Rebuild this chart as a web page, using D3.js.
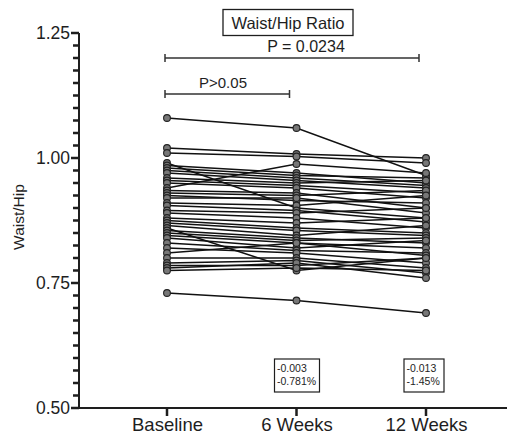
<!DOCTYPE html>
<html>
<head>
<meta charset="utf-8">
<script src="https://cdn.jsdelivr.net/npm/d3@7"></script>
<style>
  html, body { margin: 0; padding: 0; background: #fff; }
  svg { display: block; font-family: "Liberation Sans", Arial, sans-serif; }
</style>
</head>
<body>
<svg id="chart" width="507" height="437"></svg>
<script>
// time points on the x axis
const timepoints = ['Baseline', '6 Weeks', '12 Weeks'];

// waist/hip ratio per subject
const baseline = [1.080, 1.020, 1.010, 0.990, 0.985, 0.980, 0.975, 0.970, 0.960, 0.955,
                  0.950, 0.940, 0.935, 0.930, 0.925, 0.920, 0.910, 0.905, 0.895, 0.890,
                  0.880, 0.875, 0.870, 0.865, 0.860, 0.855, 0.850, 0.845, 0.840, 0.830,
                  0.820, 0.810, 0.800, 0.790, 0.785, 0.780, 0.775, 0.730];
const week6 = [1.060, 1.008, 1.003, 0.900, 0.970, 0.965, 0.960, 0.955, 0.950, 0.945,
               0.940, 0.988, 0.930, 0.925, 0.915, 0.920, 0.905, 0.895, 0.890, 0.880,
               0.870, 0.860, 0.855, 0.845, 0.775, 0.840, 0.835, 0.830, 0.820, 0.815,
               0.810, 0.830, 0.800, 0.795, 0.785, 0.790, 0.780, 0.715];
const week12 = [0.965, 1.000, 0.990, 0.880, 0.950, 0.960, 0.945, 0.940, 0.955, 0.930,
                0.920, 0.970, 0.900, 0.935, 0.910, 0.890, 0.925, 0.872, 0.900, 0.860,
                0.880, 0.850, 0.845, 0.865, 0.800, 0.830, 0.840, 0.820, 0.835, 0.810,
                0.790, 0.805, 0.780, 0.770, 0.800, 0.760, 0.775, 0.690];

// y axis ticks
const majorTicks = [0.50, 0.75, 1.00, 1.25];
const minorTicks = d3.range(0, 31).map(i => 0.5 + i * 0.025);

// comparison brackets and change annotations
const brackets = [
  { from: 'Baseline', to: '12 Weeks', level: 1.200, label: 'P =  0.0234', cx: 306 },
  { from: 'Baseline', to: '6 Weeks', level: 1.128, label: 'P>0.05', cx: 223 }
];
const changes = [
  { at: '6 Weeks', lines: ['-0.003', '-0.781%'], w: 45 },
  { at: '12 Weeks', lines: ['-0.013', '-1.45%'], w: 40 }
];

const svg = d3.select('#chart');
const axisX = 79, axisY = 408;
const ink = '#1e1e1e';

const x = d3.scalePoint().domain(timepoints).range([167, 426]);
const y = d3.scaleLinear().domain([0.5, 1.25]).range([axisY, 33]);

const subjects = baseline.map((b, i) => [b, week6[i], week12[i]]);

// subject lines
const line = d3.line()
  .x((d, i) => x(timepoints[i]))
  .y(d => y(d));

svg.append('g')
  .selectAll('path')
  .data(subjects)
  .join('path')
  .attr('d', line)
  .attr('fill', 'none')
  .attr('stroke', '#111')
  .attr('stroke-width', 1.4);

// subject points
const points = [];
subjects.forEach(s => s.forEach((v, i) => points.push({ t: timepoints[i], v })));
svg.append('g')
  .selectAll('circle')
  .data(points)
  .join('circle')
  .attr('cx', d => x(d.t))
  .attr('cy', d => y(d.v))
  .attr('r', 3.4)
  .attr('fill', '#777')
  .attr('stroke', '#222')
  .attr('stroke-width', 1.1);

// y axis line and labels
svg.append('g')
  .attr('transform', `translate(${axisX},0)`)
  .call(d3.axisLeft(y).tickValues(majorTicks).tickSize(0).tickPadding(9).tickFormat(d3.format('.2f')))
  .call(g => g.select('.domain').attr('stroke', ink).attr('stroke-width', 2).attr('d', `M0,${y(1.25)}V${axisY}`))
  .call(g => g.selectAll('text').attr('fill', ink).attr('font-size', 17.5)
    .attr('font-family', '"Liberation Sans", Arial, sans-serif'));

// y axis ticks: minor every 0.025, major ones a bit longer
const isMajor = d => majorTicks.some(m => Math.abs(m - d) < 1e-6);
svg.append('g')
  .selectAll('rect')
  .data(minorTicks)
  .join('rect')
  .attr('x', d => axisX - (isMajor(d) ? 8 : 6))
  .attr('y', d => y(d) - 1.25)
  .attr('width', d => isMajor(d) ? 8 : 6)
  .attr('height', 2.5)
  .attr('fill', ink);

// x axis
svg.append('path')
  .attr('d', `M${axisX - 6},${axisY}H507`)
  .attr('fill', 'none')
  .attr('stroke', ink)
  .attr('stroke-width', 2);

svg.append('g')
  .selectAll('rect')
  .data(timepoints)
  .join('rect')
  .attr('x', d => x(d) - 1.25)
  .attr('y', axisY)
  .attr('width', 2.5)
  .attr('height', 8)
  .attr('fill', ink);

svg.append('g')
  .attr('transform', `translate(0,${axisY})`)
  .call(d3.axisBottom(x).tickSize(0).tickPadding(10))
  .call(g => g.select('.domain').remove())
  .call(g => g.selectAll('text').attr('fill', ink).attr('font-size', 18.5)
    .attr('font-family', '"Liberation Sans", Arial, sans-serif'));

// y axis title
svg.append('text')
  .attr('transform', 'translate(24,217) rotate(-90)')
  .attr('text-anchor', 'middle')
  .attr('font-size', 15.5)
  .attr('fill', ink)
  .text('Waist/Hip');

// chart title in a box
const title = svg.append('g');
title.append('rect')
  .attr('x', 223).attr('y', 9.5).attr('width', 130).attr('height', 26)
  .attr('fill', 'none').attr('stroke', ink).attr('stroke-width', 1.3);
title.append('text')
  .attr('x', 288).attr('y', 29)
  .attr('text-anchor', 'middle')
  .attr('font-size', 16.5)
  .attr('fill', ink)
  .text('Waist/Hip Ratio');

// significance brackets
const br = svg.append('g').selectAll('g').data(brackets).join('g');
br.append('path')
  .attr('d', d => {
    const x1 = x(d.from) - 2, x2 = x(d.to) - 7, yy = y(d.level);
    return `M${x1},${yy - 4}V${yy + 4}M${x1},${yy}H${x2}M${x2},${yy - 4}V${yy + 4}`;
  })
  .attr('fill', 'none').attr('stroke', '#333').attr('stroke-width', 1.5);
br.append('text')
  .attr('x', d => d.cx)
  .attr('y', d => y(d.level) - 6)
  .attr('text-anchor', 'middle')
  .attr('font-size', d => d.to === '12 Weeks' ? 16 : 15)
  .attr('fill', ink)
  .text(d => d.label);

// change annotation boxes
const ch = svg.append('g').selectAll('g').data(changes).join('g')
  .attr('transform', d => `translate(${x(d.at) - 22},359)`);
ch.append('rect')
  .attr('width', d => d.w)
  .attr('height', 33)
  .attr('fill', '#fff').attr('stroke', ink).attr('stroke-width', 1.2);
ch.selectAll('text')
  .data(d => d.lines)
  .join('text')
  .attr('x', 2.5)
  .attr('y', (d, i) => 13 + i * 13)
  .attr('font-size', 10.5)
  .attr('fill', ink)
  .text(d => d);
</script>
</body>
</html>
